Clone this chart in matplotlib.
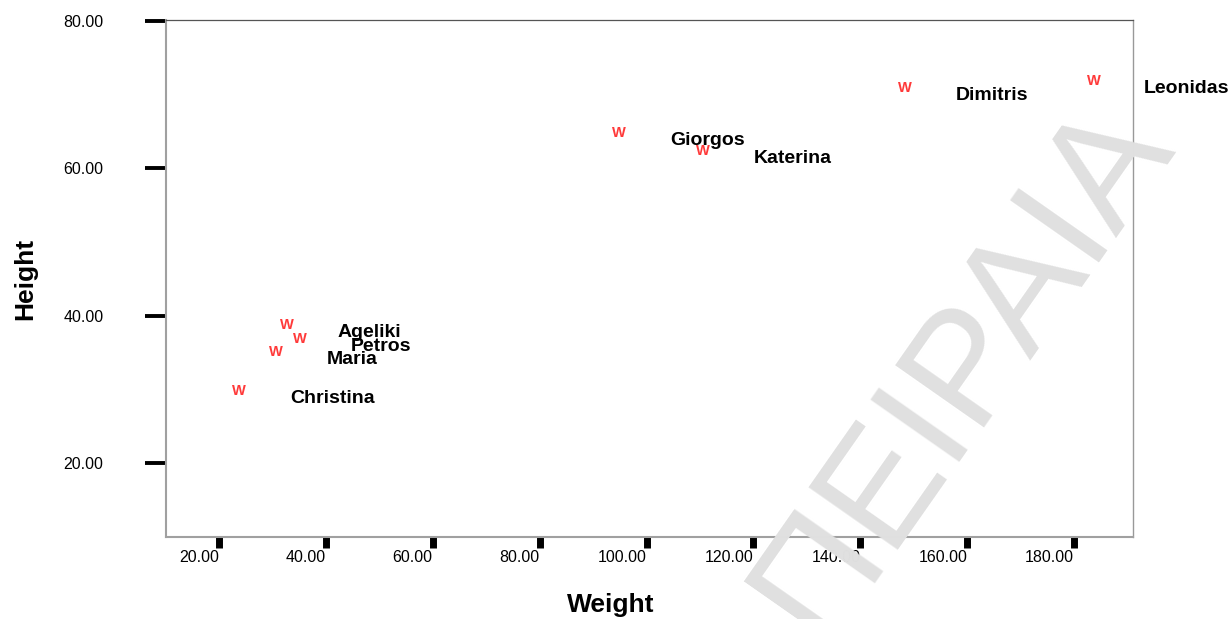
import matplotlib
matplotlib.use('Agg')
import matplotlib.pyplot as plt

# data
names = ['Christina', 'Ageliki', 'Petros', 'Maria',
         'Giorgos', 'Katerina', 'Dimitris', 'Leonidas']
weight = [23.8, 32.7, 35.2, 30.7, 94.9, 110.6, 148.4, 183.6]
height = [30.0, 38.9, 37.1, 35.25, 65.0, 62.6, 71.1, 72.0]

xticks = [20, 40, 60, 80, 100, 120, 140, 160, 180]
yticks = [20, 40, 60, 80]

plt.rcParams['font.family'] = ['Liberation Sans', 'DejaVu Sans']

fig = plt.figure(figsize=(12.31, 6.19), dpi=100)
ax = fig.add_axes([166 / 1231, (619 - 537) / 619, 967 / 1231, 517 / 619])

ax.set_xlim(10.1, 191.0)
ax.set_ylim(9.96, 80.14)

# markers are drawn as the letter W, names to the right of each one
for x, y, name in zip(weight, height, names):
    ax.text(x, y, 'W', ha='center', va='center_baseline', fontsize=10.5,
            fontweight='bold', color='#ff3a3a', fontstretch='condensed')
    ax.annotate(name, (x, y), xytext=(36.5, -5), textcoords='offset points',
                ha='left', va='center_baseline', fontsize=14,
                fontweight='bold', color='black', annotation_clip=False)

ax.set_xticks(xticks)
ax.set_xticklabels(['%.2f' % v for v in xticks])
ax.set_yticks(yticks)
ax.set_yticklabels(['%.2f' % v for v in yticks])
for lbl in ax.get_xticklabels():
    lbl.set_ha('right')

ax.tick_params(axis='x', direction='out', length=7.9, width=5, color='black',
               labelsize=11.5, pad=1.5)
ax.tick_params(axis='y', direction='out', length=15, width=2.8, color='black',
               labelsize=11.5, pad=30)

ax.spines['left'].set_color('#a0a0a0')
ax.spines['left'].set_linewidth(1.5)
ax.spines['bottom'].set_color('#a0a0a0')
ax.spines['bottom'].set_linewidth(1.5)
ax.spines['top'].set_color('#555555')
ax.spines['top'].set_linewidth(0.9)
ax.spines['right'].set_color('#999999')
ax.spines['right'].set_linewidth(1.0)

ax.set_xlabel('Weight', fontsize=19, fontweight='bold')
ax.xaxis.label.set_va('baseline')
ax.xaxis.set_label_coords((611 - 166) / 967, (537 - 612) / 517)
ax.set_ylabel('Height', fontsize=19, fontweight='bold')
ax.yaxis.label.set_va('baseline')
ax.yaxis.set_label_coords((32 - 166) / 967, (537 - 279) / 517)

# watermark over the chart
fig.text(995 / 1231, 1 - 392 / 619, 'ΠΕΙΡΑΙΑ', rotation=55,
         rotation_mode='anchor', ha='center', va='baseline',
         fontsize=114, color='#e0e0e0', zorder=10)

fig.savefig('out.png', dpi=100)
